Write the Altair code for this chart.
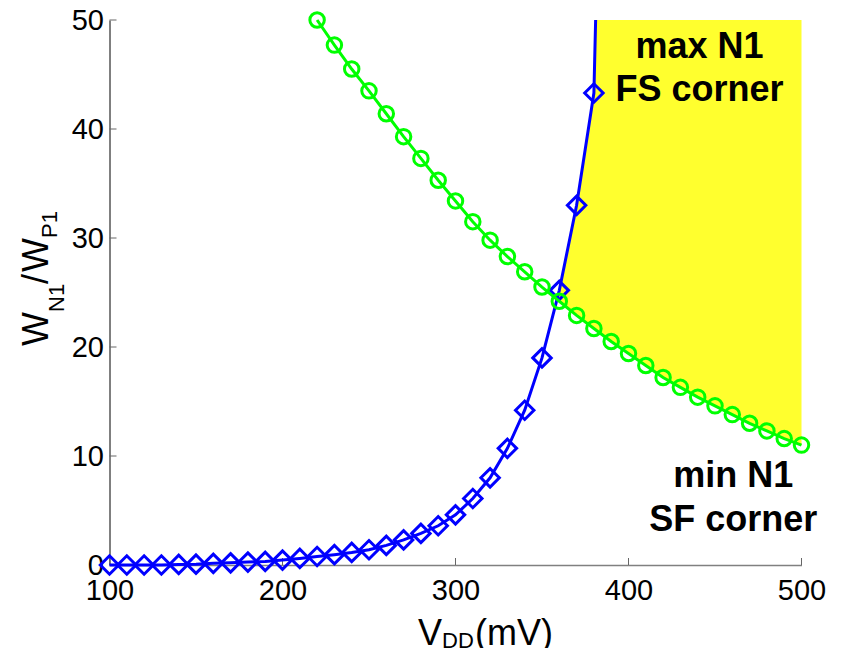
import altair as alt
import numpy as np
import pandas as pd

# ---------------- data ----------------
vdd_blue = list(range(100, 390, 10))
wr_blue = [0, 0, 0, 0, 0.05, 0.08, 0.15, 0.2, 0.27, 0.33,
           0.45, 0.6, 0.78, 0.95, 1.15, 1.4, 1.8, 2.3, 2.9, 3.6,
           4.6, 6.1, 8.0, 10.7, 14.2, 19.0, 25.2, 33.0, 43.3]
vdd_blue_tail = [381]
wr_blue_tail = [50]

vdd_green = list(range(220, 510, 10))
wr_green = [50.0, 47.7, 45.5, 43.5, 41.4, 39.3, 37.3, 35.3, 33.4, 31.5,
            29.8, 28.3, 26.9, 25.5, 24.2, 22.9, 21.7, 20.5, 19.4, 18.3,
            17.2, 16.3, 15.4, 14.6, 13.8, 13.0, 12.3, 11.6, 11.0]

x_ticks = [100, 200, 300, 400, 500]
y_ticks = [0, 10, 20, 30, 40, 50]

ann_text = ["max N1", "FS corner", "min N1", "SF corner"]
ann_x = [441, 441, 460.5, 460.5]
ann_y = [46.55, 42.6, 7.2, 3.08]

# ---------------- layout / style ----------------
W, H = 692, 545
FONT = "Liberation Sans"
BLUE = "#0000ff"
GREEN = "#00ff00"
YELLOW = "#ffff2e"

blue_pts = pd.DataFrame({"x": vdd_blue, "y": wr_blue})
blue_line = pd.DataFrame({"x": vdd_blue + vdd_blue_tail, "y": wr_blue + wr_blue_tail})
green_df = pd.DataFrame({"x": vdd_green, "y": wr_green})

# feasible region: above green curve, right of blue curve, below 50
bx = np.array(vdd_blue + vdd_blue_tail, float)
by = np.array(wr_blue + wr_blue_tail, float)
gx = np.array(vdd_green, float)
gy = np.array(wr_green, float)
grid = np.array(sorted(set(bx[bx >= gx[0]]) | set(gx)))
d = np.interp(grid, bx, by, right=50.0) - np.interp(grid, gx, gy)
k = int(np.argmax(d > 0))
t = -d[k - 1] / (d[k] - d[k - 1])
x_int = grid[k - 1] + t * (grid[k] - grid[k - 1])
rx = np.concatenate([[x_int], grid[grid > x_int]])
region = pd.DataFrame({
    "x": rx,
    "lo": np.interp(rx, gx, gy),
    "hi": np.minimum(np.interp(rx, bx, by, right=50.0), 50.0),
})

xscale = alt.Scale(domain=[100, 500], nice=False, zero=False)
yscale = alt.Scale(domain=[0, 50], nice=False, zero=False)
xaxis = alt.Axis(values=x_ticks, tickSize=0, labelFontSize=29, labelFont=FONT,
                 labelColor="black", labelPadding=11, domainColor="#808080",
                 domainWidth=1.5, grid=False, title=None, labelFlush=False,
                 format="d")
yaxis = alt.Axis(values=y_ticks, tickSize=0, labelFontSize=29, labelFont=FONT,
                 labelColor="black", labelPadding=6, domainColor="black",
                 domainWidth=1, grid=False, title=None, labelFlush=False,
                 format="d")
X = alt.X("x:Q", scale=xscale, axis=xaxis)
Y = alt.Y("y:Q", scale=yscale, axis=yaxis)

area = alt.Chart(region).mark_area(color=YELLOW, opacity=1).encode(
    x=alt.X("x:Q", scale=xscale, axis=xaxis),
    y=alt.Y("lo:Q", scale=yscale, axis=yaxis),
    y2="hi:Q",
)

blue_l = alt.Chart(blue_line).mark_line(color=BLUE, strokeWidth=3).encode(x=X, y=Y)
blue_p = alt.Chart(blue_pts).mark_point(shape="diamond", size=340, filled=False,
                                        color=BLUE, strokeWidth=3, opacity=1).encode(x=X, y=Y)
green_l = alt.Chart(green_df).mark_line(color=GREEN, strokeWidth=3).encode(x=X, y=Y)
green_p = alt.Chart(green_df).mark_point(shape="circle", size=210, filled=False,
                                         color=GREEN, strokeWidth=3, opacity=1).encode(x=X, y=Y)

xt = alt.Chart(pd.DataFrame({"x": x_ticks})).mark_rule(color="#666666", strokeWidth=1).encode(
    x=X, y=alt.value(H), y2=alt.value(H - 7))
yt = alt.Chart(pd.DataFrame({"y": y_ticks})).mark_rule(color="#666666", strokeWidth=1).encode(
    y=Y, x=alt.value(0), x2=alt.value(7))

ann = alt.Chart(pd.DataFrame({"x": ann_x, "y": ann_y, "t": ann_text})).mark_text(
    font=FONT, fontSize=36, fontWeight="bold", color="black", align="center",
    baseline="alphabetic").encode(x=X, y=Y, text="t:N")

one = alt.Data(values=[{}])


def label(txt, px, py, size, angle=0):
    return alt.Chart(one).mark_text(font=FONT, fontSize=size, color="black",
                                    align="left", baseline="alphabetic",
                                    angle=angle).encode(
        x=alt.value(px), y=alt.value(py), text=alt.value(txt))


# x title: V_DD(mV)
xt1 = label("V", 308.5, 625, 36)
xt2 = label("DD", 332.5, 628, 22)
xt3 = label("(mV)", 365.5, 625, 36)
# y title: W_N1/W_P1 (rotated)
yt1 = label("W", -61.5, 326, 36, 270)
yt2 = label("N1", -45.5, 292, 22, 270)
yt3 = label("/", -61.5, 264, 36, 270)
yt4 = label("W", -61.5, 252, 36, 270)
yt5 = label("P1", -52.5, 218, 22, 270)

chart = alt.layer(
    area, xt, yt, blue_l, blue_p, green_l, green_p, ann,
    xt1, xt2, xt3, yt1, yt2, yt3, yt4, yt5
).properties(
    width=W, height=H,
    autosize=alt.AutoSizeParams(type="none"),
    padding={"left": 101.5, "top": 12, "right": 30, "bottom": 83},
).configure_view(stroke=None)

chart.save("out.html", embed_options={"renderer": "svg", "actions": False})
